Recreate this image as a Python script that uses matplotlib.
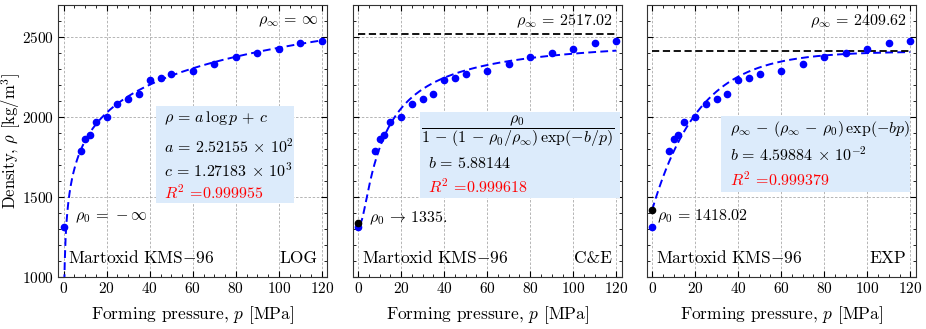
import numpy as np
import matplotlib
matplotlib.use("Agg")
import matplotlib.pyplot as plt
from matplotlib.patches import Rectangle
from matplotlib.ticker import MultipleLocator

plt.rcParams['font.family'] = 'serif'
plt.rcParams['font.serif'] = ['cmr10']
plt.rcParams['mathtext.fontset'] = 'cm'
plt.rcParams['axes.formatter.use_mathtext'] = True

# measured data (Martoxid KMS-96)
pressure = [0, 8, 10, 12, 15, 20, 25, 30, 35, 40, 45, 50, 60, 70, 80, 90, 100, 110, 120]
density = [1310, 1790, 1860, 1889, 1967, 2002, 2079, 2112, 2144, 2233, 2246, 2269,
           2290, 2331, 2373, 2400, 2427, 2463, 2475]

# fit parameters
log_a, log_c = 252.155, 1271.83
ce_rho0, ce_rhoinf, ce_b = 1335.0, 2517.02, 5.88144
exp_rho0, exp_rhoinf, exp_b = 1418.02, 2409.62, 0.0459884

fig = plt.figure(figsize=(9.26, 3.29), dpi=100)
W, H = 926, 329
lefts = [58.3, 352.7, 646.7]
width = 269
bottom, top = 277, 5
axes = [fig.add_axes([l / W, 1 - bottom / H, width / W, (bottom - top) / H]) for l in lefts]

box_color = '#dcebfb'
fs = 11.5

def style(ax, first):
    ax.set_xlim(-2.5, 122.5)
    ax.set_ylim(1000, 2700)
    ax.xaxis.set_major_locator(MultipleLocator(20))
    ax.xaxis.set_minor_locator(MultipleLocator(5))
    ax.yaxis.set_major_locator(MultipleLocator(500))
    ax.yaxis.set_minor_locator(MultipleLocator(100))
    ax.tick_params(which='both', direction='in', top=True, right=True, labelsize=11)
    ax.tick_params(which='major', length=4, pad=3)
    ax.tick_params(which='minor', length=2)
    ax.grid(True, which='major', color='#aaaaaa', linestyle=(0, (3, 2)), linewidth=0.6)
    ax.set_axisbelow(True)
    for s in ax.spines.values():
        s.set_color('#333333')
        s.set_linewidth(0.8)
    ax.set_xlabel('Forming pressure, $p$ [MPa]', fontsize=12.5)
    ax.xaxis.set_label_coords(0.5, -0.1)
    if first:
        ax.set_ylabel(r'Density, $\rho$ [kg/m$^3$]', fontsize=12)
        ax.yaxis.set_label_coords(-0.13, 0.5)
    else:
        ax.set_yticklabels([])
    ax.text(0.035, 0.04, r'$\mathrm{Martoxid\ KMS{-}96}$', transform=ax.transAxes, fontsize=12.5,
            ha='left', va='bottom')

line_kw = dict(color='blue', linestyle=(0, (4, 2.2)), linewidth=1.4, zorder=3)
dot_kw = dict(color='blue', marker='o', linestyle='None', markersize=4.5, zorder=4)
inf_kw = dict(color='black', linestyle=(0, (4, 2)), linewidth=1.3, zorder=3)

# LOG
ax = axes[0]
style(ax, True)
p = np.linspace(0.3, 120, 600)
ax.plot(p, log_a * np.log(p) + log_c, **line_kw)
ax.plot(pressure, density, **dot_kw)
ax.text(0.965, 0.04, 'LOG', transform=ax.transAxes, fontsize=12.5, ha='right', va='bottom')
ax.text(0.965, 0.94, r'$\rho_\infty \,=\, \infty$', transform=ax.transAxes, fontsize=fs, ha='right', va='center')
ax.text(5.2, 1369, r'$\rho_0 \,=\, -\infty$', fontsize=fs, ha='left', va='center')
ax.add_patch(Rectangle((0.363, 0.272), 0.514, 0.357, transform=ax.transAxes, color=box_color, zorder=2, lw=0))
ax.text(0.394, 0.583, r'$\rho \,=\, a\,\log p \,+\, c$', transform=ax.transAxes, fontsize=fs, va='center', zorder=5)
ax.text(0.394, 0.479, r'$a \,=\, 2.52155\,\times\, 10^2$', transform=ax.transAxes, fontsize=fs, va='center', zorder=5)
ax.text(0.394, 0.393, r'$c \,=\, 1.27183\,\times\, 10^3$', transform=ax.transAxes, fontsize=fs, va='center', zorder=5)
ax.text(0.394, 0.310, r'$R^2$ =0.999955', transform=ax.transAxes, fontsize=fs, va='center', color='red', zorder=5)

# C&E
ax = axes[1]
style(ax, False)
p = np.linspace(0.01, 120, 600)
ax.plot(p, ce_rho0 / (1 - (1 - ce_rho0 / ce_rhoinf) * np.exp(-ce_b / p)), **line_kw)
ax.plot([0, 120], [ce_rhoinf, ce_rhoinf], **inf_kw)
ax.plot(pressure, density, **dot_kw)
ax.plot([0], [ce_rho0], color='black', marker='o', markersize=4.5, zorder=5)
ax.text(0.965, 0.04, r'C&E', transform=ax.transAxes, fontsize=12.5, ha='right', va='bottom')
ax.text(0.965, 0.94, r'$\rho_\infty \,=\, 2517.02$', transform=ax.transAxes, fontsize=fs, ha='right', va='center')
ax.text(5.3, 1369, r'$\rho_0 \,\rightarrow\, 1335.$', fontsize=fs, ha='left', va='center')
ax.add_patch(Rectangle((0.249, 0.289), 0.745, 0.319, transform=ax.transAxes, color=box_color, zorder=2, lw=0))
ax.text(0.612, 0.535, r'$\dfrac{\rho_0}{1\,-\,(1\,-\,\rho_0/\rho_\infty)\,\exp(-b/p)}$', transform=ax.transAxes,
        fontsize=fs, ha='center', va='center', zorder=5)
ax.text(0.279, 0.418, r'$b \,=\, 5.88144$', transform=ax.transAxes, fontsize=fs, va='center', zorder=5)
ax.text(0.279, 0.332, r'$R^2$ =0.999618', transform=ax.transAxes, fontsize=fs, va='center', color='red', zorder=5)

# EXP
ax = axes[2]
style(ax, False)
p = np.linspace(0, 120, 600)
ax.plot(p, exp_rhoinf - (exp_rhoinf - exp_rho0) * np.exp(-exp_b * p), **line_kw)
ax.plot([0, 120], [exp_rhoinf, exp_rhoinf], **inf_kw)
ax.plot(pressure, density, **dot_kw)
ax.plot([0], [exp_rho0], color='black', marker='o', markersize=4.5, zorder=5)
ax.text(0.965, 0.04, 'EXP', transform=ax.transAxes, fontsize=12.5, ha='right', va='bottom')
ax.text(0.965, 0.94, r'$\rho_\infty \,=\, 2409.62$', transform=ax.transAxes, fontsize=fs, ha='right', va='center')
ax.text(2.3, 1377, r'$\rho_0 \,=\, 1418.02$', fontsize=fs, ha='left', va='center')
ax.add_patch(Rectangle((0.277, 0.311), 0.702, 0.282, transform=ax.transAxes, color=box_color, zorder=2, lw=0))
ax.text(0.31, 0.543, r'$\rho_\infty \,-\, (\rho_\infty \,-\, \rho_0)\,\exp(-bp)$', transform=ax.transAxes,
        fontsize=fs, va='center', zorder=5)
ax.text(0.31, 0.449, r'$b \,=\, 4.59884\,\times\, 10^{-2}$', transform=ax.transAxes, fontsize=fs, va='center', zorder=5)
ax.text(0.31, 0.357, r'$R^2$ =0.999379', transform=ax.transAxes, fontsize=fs, va='center', color='red', zorder=5)

fig.savefig('out.png', dpi=100)
